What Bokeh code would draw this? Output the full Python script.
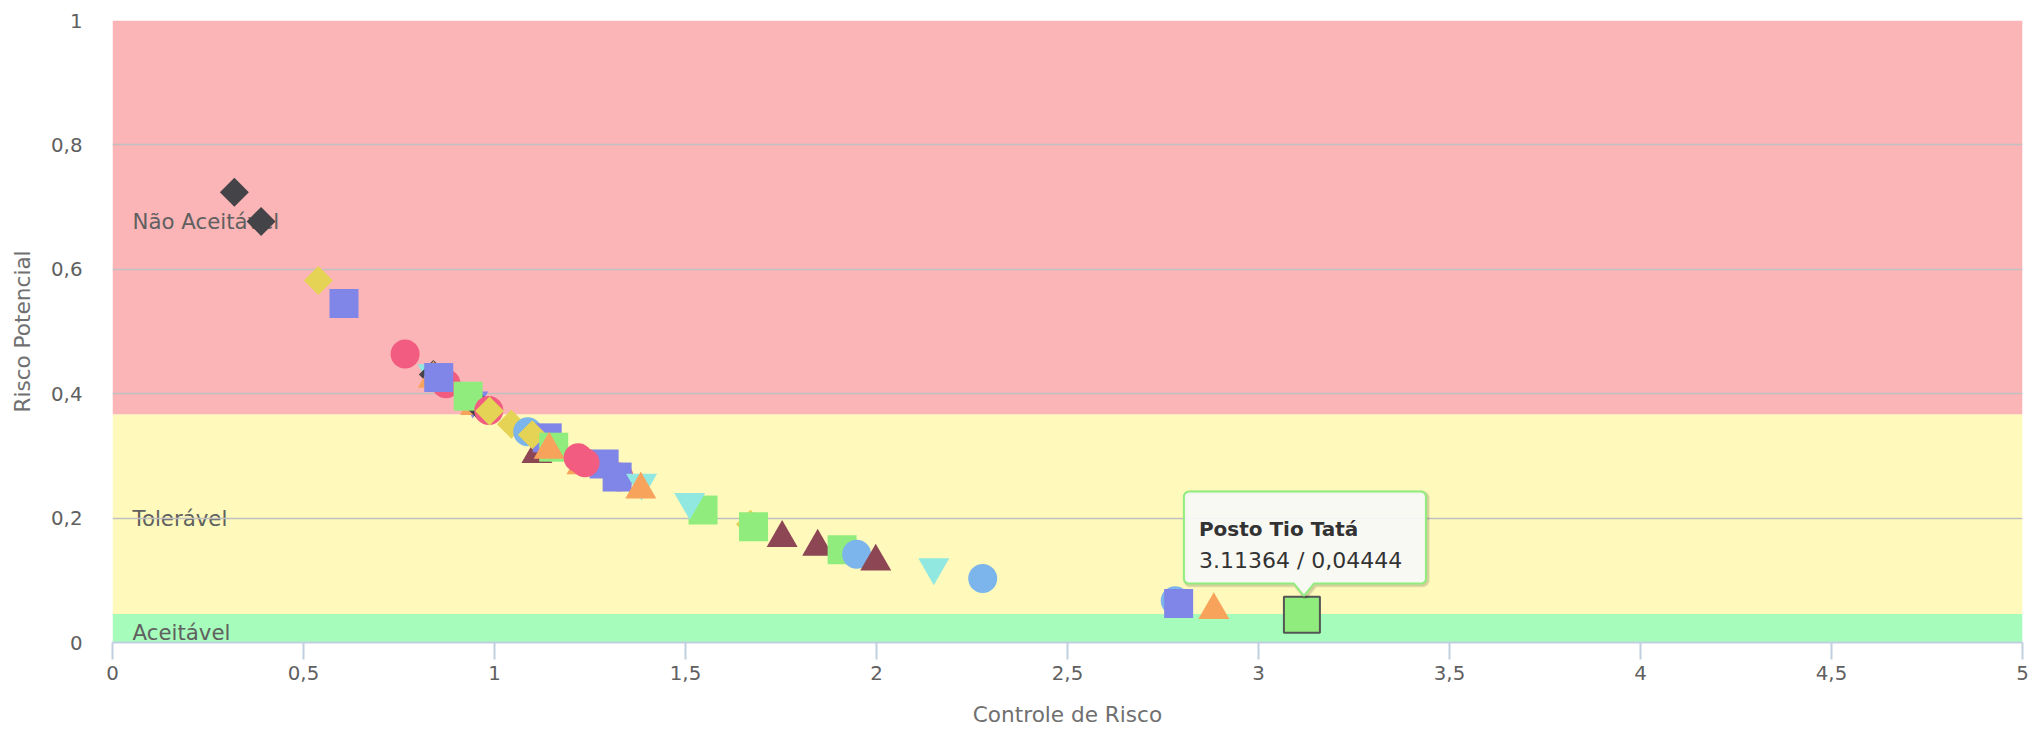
import numpy as np
from bokeh.plotting import figure
from bokeh.models import FixedTicker, Label, ColumnDataSource, Range1d
from bokeh.embed import file_html
from bokeh.resources import INLINE

# ---------------- data ----------------
x_ticks = [0, 0.5, 1, 1.5, 2, 2.5, 3, 3.5, 4, 4.5, 5]
x_tick_labels = ["0", "0,5", "1", "1,5", "2", "2,5", "3", "3,5", "4", "4,5", "5"]
y_ticks = [0, 0.2, 0.4, 0.6, 0.8, 1]
y_tick_labels = ["0", "0,2", "0,4", "0,6", "0,8", "1"]

band_names = ["Aceitável", "Tolerável", "Não Aceitável"]
band_from = [0.0, 0.046, 0.367]
band_to = [0.046, 0.367, 1.0]

# points in drawing order (x = Controle de Risco, y = Risco Potencial, series style index)
point_x = [0.319, 0.389, 0.539, 0.606, 0.766, 0.839, 0.840, 0.840, 0.873, 0.854,
           0.943, 0.950, 0.960, 0.931, 0.985, 0.987, 1.044, 1.087, 1.111, 1.138,
           1.099, 1.155, 1.143, 1.229, 1.326, 1.287, 1.321, 1.219, 1.237, 1.385,
           1.383, 1.546, 1.511, 1.670, 1.678, 1.753, 1.846, 1.910, 1.948, 1.998,
           2.150, 2.278, 2.782, 2.791, 2.883]
point_y = [0.724, 0.677, 0.582, 0.545, 0.464, 0.433, 0.431, 0.424, 0.416, 0.426,
           0.389, 0.380, 0.380, 0.396, 0.373, 0.372, 0.351, 0.339, 0.303, 0.329,
           0.334, 0.314, 0.310, 0.285, 0.266, 0.287, 0.266, 0.297, 0.289, 0.257,
           0.246, 0.213, 0.226, 0.190, 0.186, 0.168, 0.154, 0.149, 0.142, 0.130,
           0.121, 0.103, 0.067, 0.0628, 0.052]
point_series = [1, 1, 6, 7, 5, 9, 1, 3, 5, 7,
                4, 3, 1, 2, 5, 6, 6, 0, 8, 7,
                6, 2, 3, 3, 5, 7, 7, 5, 5, 9,
                3, 2, 9, 6, 2, 8, 8, 2, 0, 8,
                9, 0, 0, 7, 3]

highlight_name = "Posto Tio Tatá"
highlight_x = 3.11364
highlight_y = 0.04444
highlight_series = 2
highlight_text = "3.11364 / 0,04444"

# ---------------- styles ----------------
series_colors = ['#7cb5ec', '#434348', '#90ed7d', '#f7a35c', '#8085e9',
                 '#f15c80', '#e4d354', '#8085e8', '#8d4653', '#91e8e1']
shape_marker = {0: "circle", 1: "square", 2: "square", 3: "triangle", 4: "inverted_triangle"}
shape_size = {0: 29, 1: 20.5, 2: 29, 3: 31, 4: 31}
shape_angle = {0: 0.0, 1: np.pi / 4, 2: 0.0, 3: 0.0, 4: 0.0}
band_colors = ["#a6fdbb", "#fffabb", "#fbb5b6"]

FONT = "DejaVu Sans"
W, H = 2036, 735
BL, BR, BT, BB = 112, 14, 20, 93
FW, FH = W - BL - BR, H - BT - BB
PX_X = FW / 5.0
PX_Y = FH / 1.0

p = figure(width=W, height=H, output_backend="svg", toolbar_location=None,
           x_range=Range1d(0, 5), y_range=Range1d(0, 1),
           min_border_left=BL, min_border_right=BR, min_border_top=BT, min_border_bottom=BB)
p.background_fill_color = "white"
p.border_fill_color = "white"
p.outline_line_color = None

# plot bands
p.quad(left=0, right=5, bottom=band_from, top=band_to, fill_color=band_colors,
       line_color=None, level="image")
for name, lo, hi in zip(band_names, band_from, band_to):
    p.add_layout(Label(x=0, y=(lo + hi) / 2, x_offset=20, y_offset=-4, text=name,
                       text_baseline="alphabetic", text_font=FONT, text_font_size="21.3px",
                       text_color="#606060", level="image"))

# grid
p.xgrid.grid_line_color = None
p.ygrid.ticker = FixedTicker(ticks=y_ticks)
p.ygrid.grid_line_color = "#c0c0c0"
p.ygrid.grid_line_width = 1.6

# axes
xa = p.xaxis[0]
xa.ticker = FixedTicker(ticks=x_ticks)
xa.major_label_overrides = {t: s for t, s in zip(x_ticks, x_tick_labels)}
xa.axis_line_color = "#c0d0e0"
xa.axis_line_width = 2
xa.major_tick_line_color = "#c0d0e0"
xa.major_tick_line_width = 2
xa.major_tick_out = 17
xa.major_tick_in = 0
xa.minor_tick_out = 0
xa.minor_tick_in = 0
xa.major_label_standoff = 6
xa.major_label_text_font = FONT
xa.major_label_text_font_size = "19.8px"
xa.major_label_text_color = "#606060"
xa.axis_label = "Controle de Risco"
xa.axis_label_text_font = FONT
xa.axis_label_text_font_size = "21.6px"
xa.axis_label_text_font_style = "normal"
xa.axis_label_text_color = "#707070"
xa.axis_label_standoff = 19

ya = p.yaxis[0]
ya.ticker = FixedTicker(ticks=y_ticks)
ya.major_label_overrides = {t: s for t, s in zip(y_ticks, y_tick_labels)}
ya.axis_line_color = None
ya.major_tick_out = 0
ya.major_tick_in = 0
ya.minor_tick_out = 0
ya.minor_tick_in = 0
ya.major_label_standoff = 30
ya.major_label_text_font = FONT
ya.major_label_text_font_size = "19.8px"
ya.major_label_text_color = "#606060"
ya.axis_label = "Risco Potencial"
ya.axis_label_text_font = FONT
ya.axis_label_text_font_size = "21.6px"
ya.axis_label_text_font_style = "normal"
ya.axis_label_text_color = "#707070"
ya.axis_label_standoff = 13

# points
shapes = [s % 5 for s in point_series]
src = ColumnDataSource(dict(
    x=point_x, y=point_y,
    color=[series_colors[s % 10] for s in point_series],
    marker=[shape_marker[k] for k in shapes],
    size=[shape_size[k] for k in shapes],
    angle=[shape_angle[k] for k in shapes],
))
p.scatter(x="x", y="y", marker="marker", size="size", angle="angle",
          fill_color="color", line_color=None, source=src)

# hovered point
p.scatter(x=[highlight_x], y=[highlight_y], marker="square", size=36,
          fill_color=series_colors[highlight_series], line_color="#555555", line_width=2)

# tooltip shape (pixel offsets from the hovered point, y up)
L, R, B, T, r = -118.0, 124.0, 31.3, 123.3, 5.0
def arc(cx, cy, a0, a1):
    a = np.linspace(a0, a1, 8)
    return list(cx + r * np.cos(a)), list(cy + r * np.sin(a))
px, py = [12.0, 2.0, -8.0], [B, 19.0, B]
for (cx, cy, a0, a1) in [(L + r, B + r, -np.pi / 2, -np.pi), (L + r, T - r, np.pi, np.pi / 2),
                         (R - r, T - r, np.pi / 2, 0), (R - r, B + r, 0, -np.pi / 2)]:
    ax_, ay_ = arc(cx, cy, a0, a1)
    px += ax_
    py += ay_
px.append(12.0)
py.append(B)
tx = [highlight_x + v / PX_X for v in px]
ty = [highlight_y + v / PX_Y for v in py]
sx = [highlight_x + (v + 1.5) / PX_X for v in px]
sy = [highlight_y + (v - 1.5) / PX_Y for v in py]
p.patch(sx, sy, fill_color=None, line_color="black", line_alpha=0.07, line_width=5)
p.patch(sx, sy, fill_color=None, line_color="black", line_alpha=0.1, line_width=3)
p.patch(tx, ty, fill_color="#f9f9f9", fill_alpha=0.92,
        line_color=series_colors[highlight_series], line_width=2)

p.add_layout(Label(x=highlight_x, y=highlight_y, x_offset=-103, y_offset=86,
                   text=highlight_name, text_baseline="alphabetic", text_font=FONT,
                   text_font_size="20px", text_font_style="bold", text_color="#333333"))
p.add_layout(Label(x=highlight_x, y=highlight_y, x_offset=-103, y_offset=54.7,
                   text=highlight_text, text_baseline="alphabetic", text_font=FONT,
                   text_font_size="22px", text_color="#333333"))

open("out.html", "w").write(file_html(p, INLINE))
